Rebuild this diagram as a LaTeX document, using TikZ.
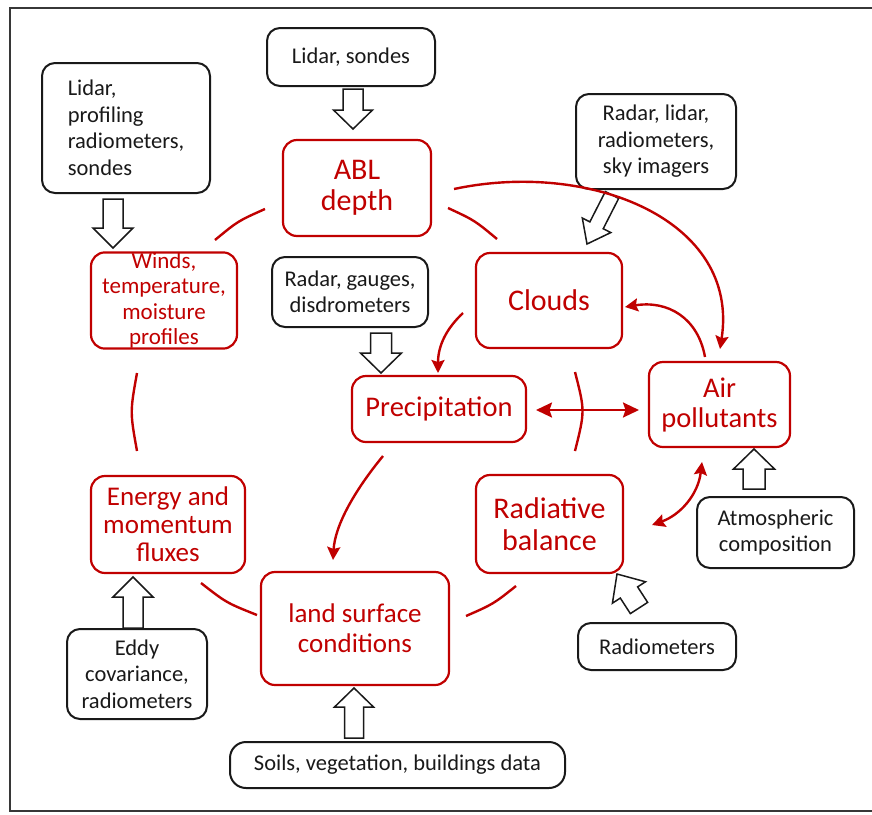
\documentclass[tikz,border=0pt]{standalone}
\usepackage{fontspec}
\setmainfont{Carlito}
\usetikzlibrary{arrows.meta,calc}
\definecolor{dred}{RGB}{192,0,0}
\definecolor{dblack}{RGB}{25,25,25}
\definecolor{framec}{RGB}{55,55,55}
\newcommand{\blockar}[5]{%
  \coordinate (hb) at ($(#2)!#5!(#1)$);
  \draw[blockarr] ($(#1)!#3!90:(#2)$) -- ($(hb)!#3!90:(#2)$) -- ($(hb)!#4!90:(#2)$) -- (#2)
    -- ($(hb)!#4!-90:(#2)$) -- ($(hb)!#3!-90:(#2)$) -- ($(#1)!#3!-90:(#2)$) -- cycle;}
\begin{document}
\begin{tikzpicture}[x=1pt,y=-1pt,
  redbox/.style={draw=dred, line width=2.2pt, rounded corners=14pt, text=dred, align=center, inner sep=0pt},
  blkbox/.style={draw=dblack, line width=2pt, rounded corners=13pt, text=dblack, align=center, inner sep=0pt,
    font=\fontsize{22.5}{26.5}\selectfont},
  redline/.style={draw=dred, line width=2.4pt},
  redarr/.style={redline, -{Stealth[length=13pt,width=13pt,inset=2pt]}},
  redarrs/.style={redline, {Stealth[length=16pt,width=15pt,inset=2.5pt]}-{Stealth[length=16pt,width=15pt,inset=2.5pt]}},
  redarrt/.style={redline, {Stealth[length=13pt,width=13pt,inset=2pt]}-{Stealth[length=13pt,width=13pt,inset=2pt]}},
  blockarr/.style={draw=dblack, line width=1.5pt, fill=white, line join=miter},
  frameline/.style={draw=framec, line width=1.8pt}
]
\useasboundingbox (0,0) rectangle (872,814);
\draw[frameline] (885,8) -- (10,8) -- (10,811) -- (885,811);

% black (instrument) boxes
\node[blkbox, minimum width=168pt, minimum height=58pt] (lidsond) at (351,57) {Lidar, sondes};
\node[blkbox, minimum width=168pt, minimum height=130pt, align=left] (lidprof) at (126,128) {Lidar,\\profiling\\radiometers,\\sondes};
\node[blkbox, minimum width=160pt, minimum height=95pt] (radlid) at (656,141.5) {Radar, lidar,\\radiometers,\\sky imagers};
\node[blkbox, minimum width=156pt, minimum height=70pt] (radgau) at (350,292) {Radar, gauges,\\disdrometers};
\node[blkbox, minimum width=157pt, minimum height=71pt] (atmos) at (775.5,532.5) {Atmospheric\\composition};
\node[blkbox, minimum width=158pt, minimum height=47pt] (radiom) at (657,646.5) {Radiometers};
\node[blkbox, minimum width=140pt, minimum height=90pt] (eddy) at (137,674) {Eddy\\covariance,\\radiometers};
\node[blkbox, minimum width=335pt, minimum height=46pt, rounded corners=16pt] (soils) at (397.5,765) {Soils, vegetation, buildings data};

% red (process) boxes
\node[redbox, minimum width=148pt, minimum height=96pt, font=\fontsize{30}{31.5}\selectfont] (abl) at (357,188) {ABL\\depth};
\node[redbox, minimum width=146pt, minimum height=95pt, font=\fontsize{23}{25.5}\selectfont] (winds) at (164,300.5) {Winds,\\temperature,\\moisture\\profiles};
\node[redbox, minimum width=154pt, minimum height=97pt, font=\fontsize{27}{28}\selectfont] (energy) at (168,524.5) {Energy and\\momentum\\fluxes};
\node[redbox, minimum width=146pt, minimum height=95pt, font=\fontsize{30}{31.5}\selectfont] (clouds) at (549,300.5) {Clouds};
\node[redbox, minimum width=174pt, minimum height=66pt, font=\fontsize{28.5}{30}\selectfont] (precip) at (439,409) {Precipitation};
\node[redbox, minimum width=141pt, minimum height=85pt, font=\fontsize{28.5}{30}\selectfont] (air) at (719.5,404.5) {Air\\pollutants};
\node[redbox, minimum width=147pt, minimum height=98pt, font=\fontsize{30}{32}\selectfont] (radbal) at (549.5,524) {Radiative\\balance};
\node[redbox, minimum width=188pt, minimum height=113pt, font=\fontsize{27}{30}\selectfont] (land) at (355,628.5) {land surface\\conditions};

% block arrows (instrument -> process)
\coordinate (b1a) at (353,89);   \coordinate (b1b) at (353,129);
\coordinate (b2a) at (113,199);  \coordinate (b2b) at (113,248);
\coordinate (b3a) at (612,195);  \coordinate (b3b) at (587,244);
\coordinate (b4a) at (381,333);  \coordinate (b4b) at (381,373);
\coordinate (b5a) at (754,489);  \coordinate (b5b) at (754,449);
\coordinate (b6a) at (639,608);  \coordinate (b6b) at (617,574);
\coordinate (b7a) at (133,628);  \coordinate (b7b) at (133,577);
\coordinate (b8a) at (354,738);  \coordinate (b8b) at (354,688);
\blockar{b1a}{b1b}{10pt}{19.5pt}{19pt}
\blockar{b2a}{b2b}{10pt}{20pt}{20pt}
\blockar{b3a}{b3b}{7.5pt}{16pt}{21pt}
\blockar{b4a}{b4b}{10.5pt}{20.5pt}{20pt}
\blockar{b5a}{b5b}{11pt}{20.5pt}{20pt}
\blockar{b6a}{b6b}{10.3pt}{19.7pt}{22pt}
\blockar{b7a}{b7b}{10pt}{20pt}{20pt}
\blockar{b8a}{b8b}{9.5pt}{19.5pt}{19pt}

% circle segments
\coordinate (s1a) at (215,240); \coordinate (s1c) at (238,221); \coordinate (s1b) at (265,209);
\coordinate (s2a) at (448,208); \coordinate (s2c) at (474.5,220.3); \coordinate (s2b) at (497,239);
\coordinate (s3a) at (137,373); \coordinate (s3c) at (130,412); \coordinate (s3b) at (137,451);
\coordinate (s4a) at (201,583); \coordinate (s4c) at (226.4,602.8); \coordinate (s4b) at (257,615);
\coordinate (s5a) at (466,616); \coordinate (s5c) at (493.2,604.1); \coordinate (s5b) at (516,586);
\coordinate (s6a) at (575,372); \coordinate (s6c) at (585,411); \coordinate (s6b) at (575,451);
\foreach \s in {s1,s2,s3,s4,s5,s6}
  \draw[redline] (\s a) .. controls (\s c) .. (\s b);

% red arrows
\coordinate (r1a) at (454,189); \coordinate (r1b) at (720,349);
\draw[redarr] (r1a) .. controls (590,160) and (740,220) .. (r1b);
\coordinate (r2a) at (705,357); \coordinate (r2b) at (625,307);
\draw[redarr] (r2a) .. controls (698,318) and (668,300) .. (r2b);
\coordinate (r3a) at (463,313); \coordinate (r3b) at (438,373);
\draw[redarr] (r3a) .. controls (447,328) and (438,345) .. (r3b);
\coordinate (r4a) at (536,410); \coordinate (r4b) at (639,410);
\draw[redarrs] (r4a) -- (r4b);
\coordinate (r5a) at (383,456); \coordinate (r5b) at (333,560);
\draw[redarr] (r5a) .. controls (355,490) and (335,525) .. (r5b);
\coordinate (r6a) at (702,462); \coordinate (r6b) at (652,525);
\draw[redarrt] (r6a) .. controls (698,495) and (680,515) .. (r6b);
\end{tikzpicture}
\end{document}
